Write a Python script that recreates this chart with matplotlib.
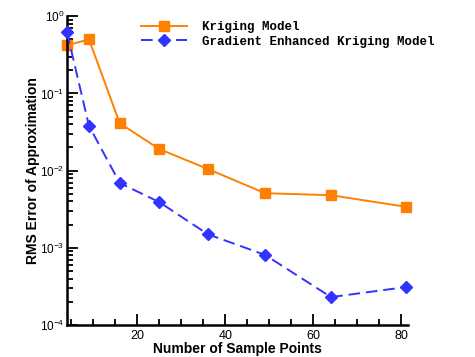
import matplotlib
matplotlib.use("Agg")
import matplotlib.pyplot as plt
from matplotlib.ticker import MultipleLocator, LogLocator, NullFormatter

# data
samples = [4, 9, 16, 25, 36, 49, 64, 81]
kriging = [0.42, 0.50, 0.041, 0.019, 0.0105, 0.0051, 0.0048, 0.0034]
gek = [0.62, 0.038, 0.0069, 0.0039, 0.0015, 0.00081, 0.00023, 0.00031]

plt.rcParams['font.family'] = ['Liberation Sans', 'DejaVu Sans']
plt.rcParams['mathtext.fontset'] = 'custom'
plt.rcParams['mathtext.rm'] = 'Liberation Sans'

fig = plt.figure(figsize=(4.75, 3.57), dpi=100)
ax = fig.add_axes([0.141, 0.0896, 0.718, 0.865])

ax.plot(samples, kriging, color='#ff8000', marker='s', markersize=7,
        linewidth=1.4, label='Kriging Model', clip_on=False)
ax.plot(samples, gek, color='#3333ff', marker='D', markersize=6.5,
        linewidth=1.4, linestyle=(0, (6, 3)), label='Gradient Enhanced Kriging Model',
        clip_on=False, zorder=3)

ax.set_yscale('log')
ax.set_xlim(4, 81.5)
ax.set_ylim(1e-4, 1)
ax.xaxis.set_major_locator(MultipleLocator(20))
ax.xaxis.set_minor_locator(MultipleLocator(5))
ax.yaxis.set_major_locator(LogLocator(base=10, numticks=10))
ax.yaxis.set_minor_locator(LogLocator(base=10, subs=range(2, 10), numticks=10))
ax.yaxis.set_minor_formatter(NullFormatter())

for s in ['top', 'right']:
    ax.spines[s].set_visible(False)
for s in ['left', 'bottom']:
    ax.spines[s].set_linewidth(1.8)

ax.tick_params(which='both', direction='in', width=1.3, labelsize=9)
ax.tick_params(which='major', length=8)
ax.tick_params(which='minor', length=4)
ax.tick_params(axis='y', pad=2, labelsize=8.5)

ax.set_xlabel('Number of Sample Points', fontsize=10, fontweight='bold', labelpad=0)
ax.set_ylabel('RMS Error of Approximation', fontsize=10, fontweight='bold', labelpad=0)

leg = ax.legend(loc='upper left', bbox_to_anchor=(0.183, 1.02), frameon=False,
                prop={'family': 'Liberation Mono', 'weight': 'bold', 'size': 9},
                handlelength=3.7, handletextpad=1.2, labelspacing=0.2)

fig.savefig('out.png', dpi=100)
